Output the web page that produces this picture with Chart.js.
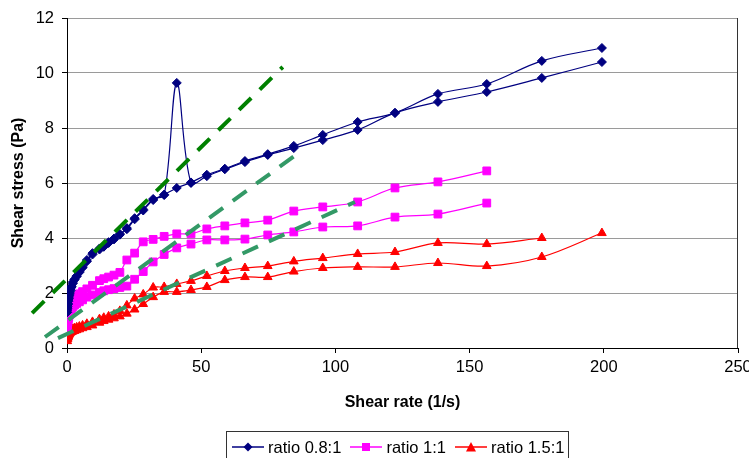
<!DOCTYPE html>
<html>
<head>
<meta charset="utf-8">
<title>Shear stress vs shear rate</title>
<script src="https://cdn.jsdelivr.net/npm/chart.js@4.4.1/dist/chart.umd.min.js"></script>
<style>
    html, body { margin: 0; padding: 0; background: #fff; }
    .wrapper { position: relative; width: 749px; height: 458px; overflow: hidden; }
    #chart { position: absolute; left: 0; top: 0; }
    .legend {
        position: absolute; left: 226px; top: 431px; width: 343px; height: 40px;
        box-sizing: border-box; border: 1px solid #333;
        display: flex; align-items: center;
        padding: 0 0 8px 5px;
        font: 16.5px "Liberation Sans", Arial, sans-serif; color: #000; white-space: nowrap;
    }
    .legend-item { display: flex; align-items: center; margin-right: 9px; }
    .legend-item svg { margin-right: 4px; }
</style>
</head>
<body>
<div class="wrapper">
    <canvas id="chart" width="749" height="458"></canvas>
    <div class="legend" id="legend"></div>
</div>
<script>
// Values
const shearRate = [0.1, 0.2, 0.35, 0.5, 0.65, 0.83, 1.06, 1.36, 1.73, 2.2,
    2.8, 3.6, 4.6, 5.8, 7.4, 9.5, 12.1, 13.7, 15.5, 17.5,
    19.7, 22.3, 25.2, 28.4, 32.1, 36.2, 40.9, 46.2, 52.1, 58.8,
    66.3, 74.8, 84.5, 95.3, 108.3, 122.2, 138.2, 156.4, 176.9, 199.3];

// ratio 0.8:1 (two sweeps, one with the spike)
const blueUp = [1.38, 1.5, 1.62, 1.75, 1.85, 1.95, 2.05, 2.15, 2.25, 2.4,
    2.5, 2.62, 2.78, 2.95, 3.2, 3.45, 3.62, 3.7, 3.85, 3.98,
    4.15, 4.36, 4.72, 5.04, 5.42, 5.56, 9.64, 6.0, 6.25, 6.5,
    6.76, 7.02, 7.27, 7.56, 7.93, 8.55, 8.95, 9.31, 9.82, 10.4];
const blueDown = [1.3, 1.45, 1.58, 1.7, 1.8, 1.9, 2.0, 2.1, 2.22, 2.35,
    2.48, 2.6, 2.75, 2.92, 3.15, 3.4, 3.58, 3.68, 3.82, 3.95,
    4.12, 4.32, 4.68, 5.0, 5.38, 5.58, 5.82, 6.02, 6.3, 6.52,
    6.8, 7.05, 7.35, 7.75, 8.22, 8.55, 9.24, 9.6, 10.44, 10.91];

// ratio 1:1
const magentaUp = [0.9, 1.05, 1.15, 1.25, 1.35, 1.42, 1.5, 1.58, 1.65, 1.72,
    1.8, 1.88, 1.97, 2.05, 2.15, 2.28, 2.45, 2.52, 2.58, 2.65,
    2.75, 3.2, 3.45, 3.86, 3.95, 4.06, 4.15, 4.15, 4.33, 4.44,
    4.55, 4.65, 4.98, 5.13, 5.31, 5.82, 6.04, 6.44];
const magentaDown = [0.75, 0.85, 0.95, 1.05, 1.12, 1.2, 1.3, 1.38, 1.45, 1.5,
    1.56, 1.62, 1.68, 1.75, 1.85, 1.93, 2.02, 2.08, 2.12, 2.16,
    2.2, 2.25, 2.5, 2.78, 3.13, 3.4, 3.64, 3.78, 3.93, 3.93,
    3.96, 4.11, 4.22, 4.4, 4.44, 4.76, 4.87, 5.27];

// ratio 1.5:1
const redUp = [0.35, 0.42, 0.48, 0.52, 0.56, 0.6, 0.63, 0.66, 0.68, 0.7,
    0.72, 0.75, 0.78, 0.82, 0.88, 0.95, 1.05, 1.1, 1.15, 1.22,
    1.35, 1.55, 1.8, 1.95, 2.2, 2.22, 2.33, 2.44, 2.62, 2.8,
    2.91, 2.98, 3.15, 3.27, 3.42, 3.49, 3.82, 3.78, 4.0];
const redDown = [0.25, 0.32, 0.38, 0.42, 0.46, 0.5, 0.53, 0.56, 0.58, 0.6,
    0.62, 0.65, 0.68, 0.72, 0.76, 0.82, 0.92, 0.98, 1.03, 1.08,
    1.15, 1.25, 1.4, 1.6, 1.85, 2.04, 2.04, 2.11, 2.22, 2.47,
    2.58, 2.58, 2.78, 2.91, 2.95, 2.95, 3.09, 2.98, 3.31, 4.18];

// dashed guide lines (end points)
const guideGreenX = [-13, 80.4];
const guideGreenY = [1.27, 10.22];
const guideTealAX = [-8.2, 85.3];
const guideTealAY = [0.4, 7.02];
const guideTealBX = [-3.35, 107.3];
const guideTealBY = [0.36, 5.31];

const xTicks = [0, 50, 100, 150, 200, 250];
const yTicks = [0, 2, 4, 6, 8, 10, 12];

const FONT = '"Liberation Sans", Arial, sans-serif';

function toPoints(xs, ys) {
    return ys.map(function(y, i) {
        return { x: xs[i], y: y };
    });
}

function series(label, ys, color, style, radius, inLegend) {
    return {
        label: label,
        data: toPoints(shearRate, ys),
        borderColor: color,
        backgroundColor: color,
        borderWidth: 1.2,
        pointStyle: style,
        pointRadius: radius,
        pointBorderWidth: 1,
        tension: 0.35,
        order: 1,
        inLegend: inLegend
    };
}

function guide(xs, ys, color) {
    return {
        label: 'guide',
        data: toPoints(xs, ys),
        borderColor: color,
        borderWidth: 4,
        borderDash: [17, 12],
        borderCapStyle: 'butt',
        pointRadius: 0,
        tension: 0,
        clip: false,
        order: 0,
        inLegend: false
    };
}

// right edge of the plot area
const plotFrame = {
    id: 'plotFrame',
    afterDraw: function(chart) {
        const a = chart.chartArea;
        const ctx = chart.ctx;
        ctx.save();
        ctx.strokeStyle = '#333';
        ctx.lineWidth = 1;
        ctx.beginPath();
        ctx.moveTo(Math.round(a.right) - 0.5, a.top);
        ctx.lineTo(Math.round(a.right) - 0.5, a.bottom);
        ctx.stroke();
        ctx.restore();
    }
};

Chart.defaults.font.family = FONT;
Chart.defaults.color = '#000';

const datasets = [
    series('ratio 0.8:1', blueUp, '#000080', 'rectRot', 4.5, true),
    series('ratio 0.8:1', blueDown, '#000080', 'rectRot', 4.5, false),
    series('ratio 1:1', magentaUp, '#FF00FF', 'rect', 5.5, true),
    series('ratio 1:1', magentaDown, '#FF00FF', 'rect', 5.5, false),
    series('ratio 1.5:1', redUp, '#FF0000', 'triangle', 5, true),
    series('ratio 1.5:1', redDown, '#FF0000', 'triangle', 5, false),
    guide(guideGreenX, guideGreenY, '#008000'),
    guide(guideTealAX, guideTealAY, '#339966'),
    guide(guideTealBX, guideTealBY, '#339966')
];

const chart = new Chart(document.getElementById('chart'), {
    type: 'line',
    data: { datasets: datasets },
    options: {
        responsive: false,
        animation: false,
        devicePixelRatio: 1,
        layout: { padding: { left: 0, right: 11, top: 18, bottom: 46 } },
        plugins: {
            legend: { display: false },
            tooltip: { enabled: false }
        },
        scales: {
            x: {
                type: 'linear',
                min: 0,
                max: 250,
                afterBuildTicks: function(scale) {
                    scale.ticks = xTicks.map(function(v) { return { value: v }; });
                },
                afterFit: function(scale) {
                    scale.height = 64;
                    scale.paddingLeft = 0;
                    scale.paddingRight = 0;
                },
                grid: { drawOnChartArea: false, drawTicks: true, tickLength: 5, tickColor: '#000' },
                border: { color: '#000', width: 1 },
                ticks: { padding: 5, font: { size: 16.5 }, maxRotation: 0 },
                title: {
                    display: true,
                    text: 'Shear rate (1/s)',
                    font: { size: 16, weight: 'bold' },
                    padding: { top: 0, bottom: 0 }
                }
            },
            y: {
                min: 0,
                max: 12,
                afterBuildTicks: function(scale) {
                    scale.ticks = yTicks.map(function(v) { return { value: v }; });
                },
                afterFit: function(scale) {
                    scale.width = 67;
                },
                grid: { color: '#9a9a9a', drawTicks: true, tickLength: 5, tickColor: '#000' },
                border: { color: '#000', width: 1 },
                ticks: { padding: 8, font: { size: 16.5 } },
                title: {
                    display: true,
                    text: 'Shear stress (Pa)',
                    font: { size: 16, weight: 'bold' },
                    padding: { top: 9, bottom: 0 }
                }
            }
        }
    },
    plugins: [plotFrame]
});

// Legend: line with marker, like the spreadsheet legend
function legendIcon(color, style) {
    let marker = '';
    if (style === 'rectRot') {
        marker = '<polygon points="16,1.5 20.5,6 16,10.5 11.5,6" fill="' + color + '"/>';
    } else if (style === 'rect') {
        marker = '<rect x="12" y="2" width="8" height="8" fill="' + color + '"/>';
    } else {
        marker = '<polygon points="16,1 21,10.5 11,10.5" fill="' + color + '"/>';
    }
    return '<svg width="32" height="12" viewBox="0 0 32 12">' +
        '<line x1="0" y1="6" x2="32" y2="6" stroke="' + color + '" stroke-width="1.5"/>' +
        marker + '</svg>';
}

const legend = document.getElementById('legend');
chart.data.datasets.forEach(function(ds) {
    if (!ds.inLegend) {
        return;
    }
    const item = document.createElement('span');
    item.className = 'legend-item';
    item.innerHTML = legendIcon(ds.borderColor, ds.pointStyle) + '<span>' + ds.label + '</span>';
    legend.appendChild(item);
});
</script>
</body>
</html>
